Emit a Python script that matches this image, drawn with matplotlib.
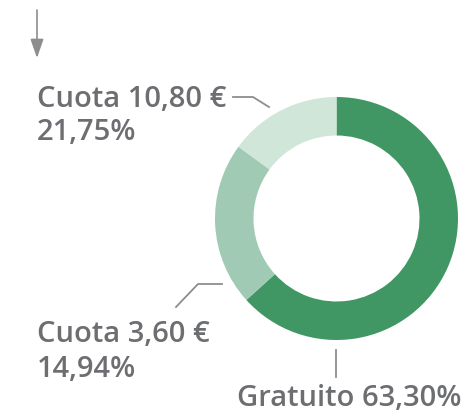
import numpy as np
import matplotlib
matplotlib.use('Agg')
import matplotlib.pyplot as plt

# slices clockwise from 12 o'clock, as drawn in the reference
sliceNames = ['Gratuito', 'Cuota 10,80 €', 'Cuota 3,60 €']
sliceValues = [63.30, 21.75, 14.94]
sliceColors = ['#419763', '#a0cab3', '#d0e6d9']

# label texts (one entry per line)
labelGratuito = ['Gratuito 63,30%']
labelCuota360 = ['Cuota 3,60 €', '14,94%']
labelCuota1080 = ['Cuota 10,80 €', '21,75%']

W, H = 468, 412
textColor = '#6d6e71'
lineColor = '#8c8d8f'

plt.rcParams['font.family'] = ['Open Sans', 'DejaVu Sans']

fig = plt.figure(figsize=(W / 100, H / 100), dpi=100)
ax = fig.add_axes([0, 0, 1, 1])

# donut: pixel coords with y flipped
cx, cy = 336.5, H - 218.5
rOut, rIn = 121.5, 83
ax.pie(sliceValues, colors=sliceColors, startangle=90, counterclock=False,
       radius=rOut, center=(cx, cy),
       wedgeprops=dict(width=rOut - rIn, linewidth=0))

ax.set_xlim(0, W)
ax.set_ylim(0, H)
ax.set_aspect('equal')
ax.axis('off')

# leader lines
ax.plot([233, 253, 269], [H - 97, H - 97, H - 107], color=lineColor, lw=1.3)
ax.plot([176, 198, 222], [H - 307, H - 284, H - 284], color=lineColor, lw=1.3)
ax.plot([336, 336], [H - 350, H - 377], color=lineColor, lw=1.3)


def drawLabel(x, yBase, lines, pitch=33):
    for i, line in enumerate(lines):
        ax.text(x, H - (yBase + i * pitch), line, color=textColor,
                fontsize=21, fontweight='semibold', ha='left', va='baseline')


drawLabel(37, 107, labelCuota1080)
drawLabel(37, 342, labelCuota360, pitch=35)
drawLabel(237, 406, labelGratuito)

# down arrow top-left
ax.annotate('', xy=(37, H - 58), xytext=(37, H - 10),
            arrowprops=dict(arrowstyle='-|>,head_length=1.15,head_width=0.4',
                            color=lineColor, lw=1.2,
                            mutation_scale=10, shrinkA=0, shrinkB=0))

fig.savefig('out.png', dpi=100)
